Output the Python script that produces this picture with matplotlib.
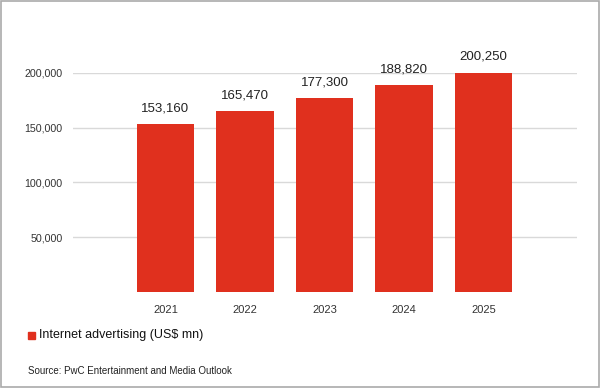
import matplotlib.pyplot as plt
from matplotlib.patches import Rectangle

years = ['2021', '2022', '2023', '2024', '2025']
values = [153160, 165470, 177300, 188820, 200250]
yticks = [50000, 100000, 150000, 200000]

BAR_RED = '#e0301e'

plt.rcParams['font.family'] = ['Liberation Sans', 'DejaVu Sans']

fig = plt.figure(figsize=(6, 3.88), dpi=100)
ax = fig.add_axes([0.1217, 0.2474, 0.84, 0.5645])

x = range(len(years))
bars = ax.bar(x, values, width=0.72, color=BAR_RED, zorder=3, clip_on=False)

for xi, v in zip(x, values):
    ax.annotate(f'{v:,}', (xi, v), xytext=(0, 7), textcoords='offset points',
                ha='center', va='bottom', fontsize=9.5, color='#222222')

ax.set_xlim(-1.163, 4 + 1.176)
ax.set_ylim(0, 200000)
ax.set_yticks(yticks)
ax.set_yticklabels([f'{t:,}' for t in yticks], fontsize=7.7, color='#333333')
ax.set_xticks(list(x))
ax.set_xticklabels(years, fontsize=8, color='#333333')
ax.tick_params(axis='both', length=0)
ax.tick_params(axis='y', pad=7.5)
ax.tick_params(axis='x', pad=9)
ax.grid(axis='y', color='#d9d9d9', linewidth=1, zorder=0)
for s in ax.spines.values():
    s.set_visible(False)

# legend
fig.patches.append(Rectangle((28 / 600, 1 - 339 / 388), 7 / 600, 7 / 388,
                             transform=fig.transFigure, color=BAR_RED))
fig.text(39 / 600, 1 - 335 / 388, 'Internet advertising (US$ mn)', fontsize=9,
         va='center', ha='left', color='#111111')
fig.text(28 / 600, 1 - 371 / 388, 'Source: PwC Entertainment and Media Outlook',
         fontsize=7, va='center', ha='left', color='#222222')

# outer border
fig.patches.append(Rectangle((0.001, 0.0015), 0.997, 0.996, transform=fig.transFigure,
                             fill=False, edgecolor='#aaaaaa', linewidth=1.2))

fig.savefig('out.png', dpi=100)
